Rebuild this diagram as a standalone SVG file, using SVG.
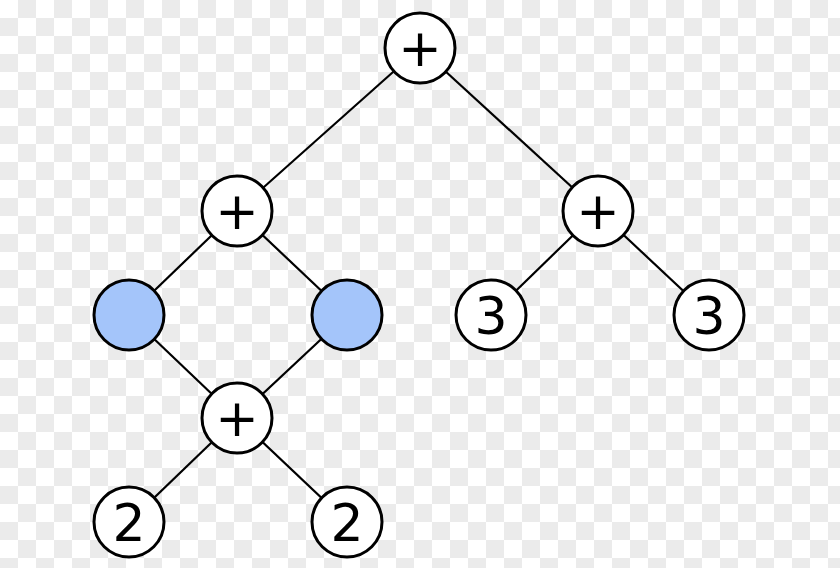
<svg xmlns="http://www.w3.org/2000/svg" width="840" height="568" viewBox="0 0 840 568">
<defs>
<pattern id="chk" width="36" height="36" patternUnits="userSpaceOnUse">
<rect width="36" height="36" fill="#ffffff"/>
<rect x="18" y="0" width="18" height="18" fill="#ebebeb"/>
<rect x="0" y="18" width="18" height="18" fill="#ebebeb"/>
</pattern>
<style>
.n{fill:#ffffff;stroke:#000;stroke-width:3}
.b{fill:#a4c5fa;stroke:#000;stroke-width:3}
.t{font-family:"DejaVu Sans",sans-serif;font-size:52px;text-anchor:middle;fill:#000}
.e{stroke:#000;stroke-width:2.2;fill:none}
</style>
</defs>
<rect width="840" height="568" fill="url(#chk)"/>
<g id="connectors">
<line class="e" x1="420" y1="48" x2="237" y2="211"/>
<line class="e" x1="420" y1="48" x2="598" y2="211"/>
<line class="e" x1="237" y1="211" x2="129" y2="315"/>
<line class="e" x1="237" y1="211" x2="347" y2="315"/>
<line class="e" x1="129" y1="315" x2="237" y2="418"/>
<line class="e" x1="347" y1="315" x2="237" y2="418"/>
<line class="e" x1="237" y1="418" x2="129" y2="522"/>
<line class="e" x1="237" y1="418" x2="347" y2="522"/>
<line class="e" x1="598" y1="211" x2="491" y2="315"/>
<line class="e" x1="598" y1="211" x2="709" y2="315"/>
</g>
<g id="root"><circle class="n" cx="420" cy="48" r="35"/><text class="t" x="420" y="66">+</text></g>
<g id="plusL"><circle class="n" cx="237" cy="211" r="35"/><text class="t" x="237" y="229">+</text></g>
<g id="plusR"><circle class="n" cx="598" cy="211" r="35"/><text class="t" x="598" y="229">+</text></g>
<g id="blueL"><circle class="b" cx="129" cy="315" r="35"/></g>
<g id="blueR"><circle class="b" cx="347" cy="315" r="35"/></g>
<g id="threeL"><circle class="n" cx="491" cy="315" r="35"/><text class="t" x="491" y="334">3</text></g>
<g id="threeR"><circle class="n" cx="709" cy="315" r="35"/><text class="t" x="709" y="334">3</text></g>
<g id="plusB"><circle class="n" cx="237" cy="418" r="35"/><text class="t" x="237" y="436">+</text></g>
<g id="twoL"><circle class="n" cx="129" cy="522" r="35"/><text class="t" x="129" y="541">2</text></g>
<g id="twoR"><circle class="n" cx="347" cy="522" r="35"/><text class="t" x="347" y="541">2</text></g>
</svg>
